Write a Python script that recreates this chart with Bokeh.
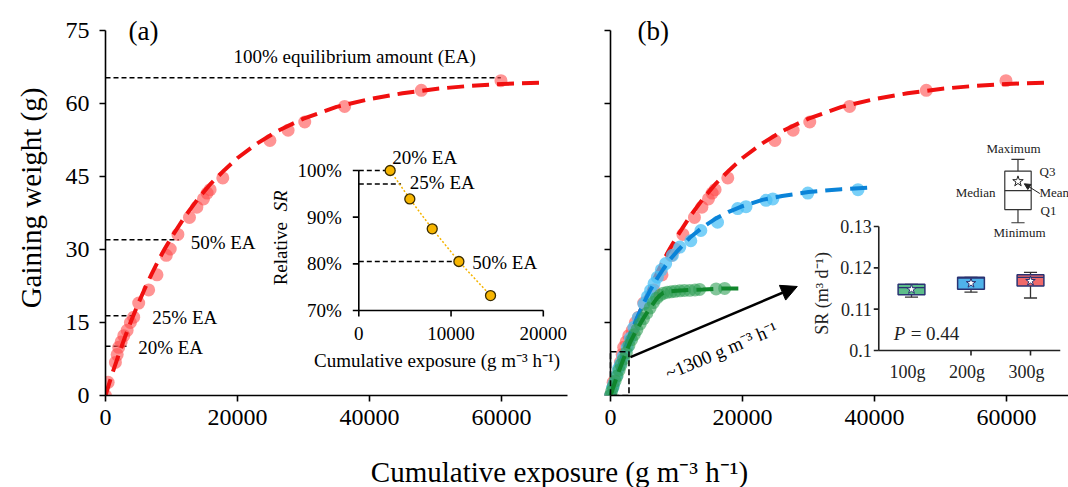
import math
from bokeh.plotting import figure
from bokeh.layouts import row, column
from bokeh.models import Range1d, Arrow, NormalHead, FixedTicker
from bokeh.core.properties import value
from bokeh.embed import file_html
from bokeh.resources import INLINE

FONT = "Liberation Serif"

# ======================= DATA =======================
Y_TICKS = [0, 15, 30, 45, 60, 75]
X_TICKS = [0, 20000, 40000, 60000]
X_TICK_LABELS = ["0", "20000", "40000", "60000"]

# 300 g series (red) - observations
red_x = [0, 400, 1500, 1770, 2000, 2370, 2770, 3280, 3770, 4270, 5030, 6540, 7800, 9210,
         9810, 10970, 12720, 13840, 14840, 15400, 15850, 17770, 24910, 27670, 30190,
         36230, 47850, 59920]
red_y = [0.0, 2.7, 6.8, 8.4, 9.9, 11.0, 12.3, 13.4, 15.0, 16.1, 19.0, 21.7, 24.8, 28.8,
         30.1, 33.1, 36.6, 38.7, 40.4, 41.6, 42.3, 44.7, 52.4, 54.5, 56.2, 59.4, 62.7, 64.7]
# 300 g fitted curve
red_fit_x = [0, 1000, 2000, 3000, 4000, 5000, 6000, 7000, 8000, 9000, 10000, 12000, 14000,
             16000, 18000, 20000, 23000, 26000, 30000, 35000, 40000, 45000, 50000, 55000,
             60000, 66000]
red_fit_y = [0.0, 4.4, 8.4, 12.2, 15.7, 19.0, 22.1, 25.0, 27.7, 30.2, 32.5, 36.7, 40.4,
             43.6, 46.3, 48.8, 51.8, 54.3, 56.9, 59.3, 60.9, 62.1, 63.0, 63.6, 64.0, 64.3]

# 200 g series (blue)
blue_x = [0, 300, 500, 900, 1200, 1520, 1900, 2540, 3000, 3550, 4200, 5070, 5600, 6080,
          6600, 7100, 7700, 8360, 9380, 10500, 12170, 13690, 16220, 19270, 20530, 23570,
          24600, 29900, 37500]
blue_y = [0.0, 1.5, 2.4, 4.0, 5.5, 6.5, 8.0, 9.9, 11.8, 14.0, 16.0, 18.8, 20.3, 21.6,
          23.0, 24.3, 25.8, 27.1, 28.8, 30.5, 31.8, 33.9, 35.6, 38.4, 38.8, 40.1, 40.4,
          41.6, 42.3]
blue_fit_x = [0, 1000, 2000, 3000, 4000, 5000, 6000, 7000, 8000, 9000, 10000, 12000, 14000,
              16000, 18000, 20000, 23000, 26000, 30000, 35000, 40000]
blue_fit_y = [0.0, 4.7, 8.9, 12.6, 15.9, 18.9, 21.6, 23.9, 26.0, 27.9, 29.5, 32.4, 34.6,
              36.4, 37.8, 38.9, 40.2, 41.0, 41.8, 42.4, 42.8]

# 100 g series (green)
green_x = [0, 150, 400, 700, 1000, 1300, 1600, 2000, 2400, 2800, 3200, 3600, 4000, 4500,
           5000, 5500, 6000, 6500, 7000, 7500, 8000, 8600, 9200, 9800, 10500, 11200, 12000,
           12800, 13500, 16000, 17300]
green_y = [0.0, 0.8, 1.8, 3.0, 4.0, 5.2, 6.3, 7.5, 8.8, 10.3, 11.5, 12.5, 13.5, 14.7,
           15.8, 16.9, 18.0, 19.1, 20.0, 20.6, 21.0, 21.2, 21.3, 21.4, 21.5, 21.6, 21.6,
           21.7, 21.8, 21.9, 22.0]
green_fit_x = [0, 1000, 2000, 3000, 4000, 5000, 6000, 7000, 7500, 8000, 9000, 10000, 12000,
               14000, 17000, 20000]
green_fit_y = [0.0, 4.0, 7.6, 11.0, 13.6, 15.9, 18.0, 19.9, 20.6, 21.1, 21.4, 21.5, 21.7,
               21.8, 22.0, 22.0]

# equilibrium-amount reference levels (panel a)
ea_y = [10.1, 16.4, 32.0, 65.3]
ea_x_end = [3640, 4640, 11100, 59900]
ea_labels = ["20% EA", "25% EA", "50% EA", "100% equilibrium amount (EA)"]
ea_label_x = [4950, 7100, 12900, 19400]
ea_label_y = [9.9, 16.0, 31.4, 69.6]

# inset (a): relative SR vs cumulative exposure
rsr_x = [3400, 5530, 7960, 10850, 14280]
rsr_y = [100.0, 93.9, 87.5, 80.5, 73.2]
rsr_ea_y = [100.0, 97.1, 80.5]
rsr_ea_x_end = [3400, 4580, 10850]
rsr_ea_labels = ["20% EA", "25% EA", "50% EA"]
rsr_ea_label_x = [3620, 5530, 12300]
rsr_ea_label_y = [102.8, 97.5, 80.3]
rsr_y_ticks = [70, 80, 90, 100]
rsr_y_tick_labels = ["70%", "80%", "90%", "100%"]
rsr_x_ticks = [0, 10000, 20000]
rsr_x_tick_labels = ["0", "10000", "20000"]

# inset (b): SR box plots
box_groups = ["100g", "200g", "300g"]
box_pos = [1, 2, 3]
box_min = [0.1129, 0.1141, 0.1127]
box_q1 = [0.1135, 0.1148, 0.1156]
box_med = [0.1152, 0.1175, 0.1177]
box_q3 = [0.1160, 0.1177, 0.1183]
box_max = [0.1160, 0.1177, 0.1189]
box_mean = [0.1148, 0.1163, 0.1168]
box_colors = ["#5dbd8a", "#4fb3ea", "#f06a6a"]
box_y_ticks = [0.10, 0.11, 0.12, 0.13]
box_y_tick_labels = ["0.1", "0.11", "0.12", "0.13"]
box_x_ticks = [2, 3]

# box-plot key (panel b coordinates)
key_x = 61740
key_stats = {"min": 35.5, "q1": 38.2, "median": 42.1, "q3": 46.1, "max": 48.5, "mean": 44.0}
key_labels = ["Maximum", "Minimum", "Median", "Q3", "Q1", "Mean"]
key_label_x = [61060, 61970, 58330, 65000, 65150, 65000]
key_label_y = [50.85, 33.55, 41.7, 46.0, 38.0, 41.7]
key_arrow = (65050, 41.5, 62700, 43.5)

# zoom box, arrow and its annotation (panel b)
zoom_box = (0, 2800, 0, 9.0)
big_arrow = (3030, 7.9, 28300, 22.4)
big_arrow_text = "~1300 g m\u207b\u00b3 h\u207b\u00b9"
big_arrow_text_pos = (16800, 9.2)

# ======================= LAYOUT =======================
W_A, W_B, H_MAIN, H_TITLE = 590, 478, 445, 42
A_LEFT, A_RIGHT = 105, 567        # window px of panel (a) frame
B_AXIS, B_RIGHT = 610, 1068       # window px of panel (b) y axis / frame right
B_FRAME_LEFT = 600                # panel (b) frame starts a little left of its axis
F_TOP, F_BOT = 0, 395             # frame top / bottom (window px)
PX_PER_X = (A_RIGHT - A_LEFT) / 70000.0
PX_PER_Y = 365.0 / 75.0
Y_END = (F_BOT - F_TOP) / PX_PER_Y


def xr(v0, p0, k, lo, hi):
    return Range1d(v0 + (lo - p0) / k, v0 + (hi - p0) / k)


def yr(v0, p0, k, top, bot):
    return Range1d(v0 - (bot - p0) / k, v0 + (p0 - top) / k)


def style_axis(ax):
    ax.axis_line_width = 1.6
    ax.axis_line_color = "black"
    ax.major_tick_line_width = 1.6
    ax.major_tick_line_color = "black"
    ax.major_tick_out = 6
    ax.major_tick_in = 0
    ax.minor_tick_line_color = None
    ax.major_label_text_font = FONT
    ax.major_label_text_font_size = "24px"
    ax.major_label_text_color = "black"


def base_fig(width, x_range, left, right, y_axis=True):
    p = figure(width=width, height=H_MAIN, x_range=x_range, y_range=Range1d(0, Y_END),
               output_backend="svg", toolbar_location=None,
               min_border_left=left, min_border_right=right,
               min_border_top=0, min_border_bottom=H_MAIN - F_BOT,
               y_axis_location="left" if y_axis else None)
    p.outline_line_color = None
    p.grid.grid_line_color = None
    p.background_fill_color = "white"
    p.border_fill_color = "white"
    style_axis(p.xaxis[0])
    p.xaxis.ticker = FixedTicker(ticks=X_TICKS)
    p.xaxis.major_label_overrides = dict(zip(X_TICKS, X_TICK_LABELS))
    p.xaxis.major_label_standoff = 8
    if y_axis:
        style_axis(p.yaxis[0])
        p.yaxis.ticker = FixedTicker(ticks=Y_TICKS)
        p.yaxis.bounds = (0, 75)
    return p


def txt(p, x, y, s, size="19px", align="left", baseline="middle", style="normal",
        angle=0.0, color="black", **kw):
    p.text(x=x, y=y, text=s, text_font=value(FONT), text_font_size=size,
           text_align=align, text_baseline=baseline, text_font_style=style,
           angle=angle, text_color=color, **kw)


def series(p, xs, ys, fx, fy, pt_color, pt_alpha, line_color):
    p.scatter(xs, ys, size=13, fill_color=pt_color, fill_alpha=pt_alpha, line_color=None)
    p.line(fx, fy, line_color=line_color, line_width=4, line_dash="17 8")


# ---------------- panel (a) ----------------
pa = base_fig(W_A, Range1d(0, 70000), A_LEFT, W_A - A_RIGHT)
pa.yaxis.axis_label = "Gaining weight (g)"
pa.yaxis.axis_label_text_font = FONT
pa.yaxis.axis_label_text_font_size = "29px"
pa.yaxis.axis_label_text_font_style = "normal"
pa.yaxis.axis_label_text_color = "black"
pa.yaxis.axis_label_standoff = 16
pa.yaxis.major_label_standoff = 10

pa.segment(x0=[0] * len(ea_y), y0=ea_y, x1=ea_x_end, y1=ea_y,
           line_color="black", line_width=1.5, line_dash="5 3")
series(pa, red_x, red_y, red_fit_x, red_fit_y, "#ff4d4d", 0.6, "#f01010")
txt(pa, ea_label_x, ea_label_y, ea_labels)
txt(pa, [3480], [75.0], ["(a)"], size="27px")

# inset (a)
ikx = 184.5 / 20000
iky = 140 / 30.0
pa.extra_x_ranges = {"ix": xr(0, 358.3, ikx, A_LEFT, A_RIGHT)}
pa.extra_y_ranges = {"iy": yr(70, 310, iky, F_TOP, F_BOT)}
IR = dict(x_range_name="ix", y_range_name="iy")
pa.segment(x0=[0, 0], y0=[rsr_y_ticks[0]] * 2, x1=[0, rsr_x_ticks[-1]],
           y1=[rsr_y_ticks[-1], rsr_y_ticks[0]], line_color="black", line_width=1.6, **IR)
pa.segment(x0=[0] * 4, y0=rsr_y_ticks, x1=[-6 / ikx] * 4, y1=rsr_y_ticks,
           line_color="black", line_width=1.6, **IR)
pa.segment(x0=rsr_x_ticks, y0=[70] * 3, x1=rsr_x_ticks, y1=[70 - 6 / iky] * 3,
           line_color="black", line_width=1.6, **IR)
txt(pa, [0] * 4, rsr_y_ticks, rsr_y_tick_labels, align="right", x_offset=-17, **IR)
txt(pa, rsr_x_ticks, [70] * 3, rsr_x_tick_labels, align="center", y_offset=23, **IR)
txt(pa, [8480], [70], ["Cumulative exposure (g m\u207b\u00b3 h\u207b\u00b9)"],
    align="center", y_offset=50, **IR)
txt(pa, [0], [75.4], ["Relative"], angle=math.pi / 2, x_offset=-78, **IR)
txt(pa, [0], [91.2], ["SR"], angle=math.pi / 2, x_offset=-78, style="italic", **IR)
pa.segment(x0=[0] * 3, y0=rsr_ea_y, x1=rsr_ea_x_end, y1=rsr_ea_y,
           line_color="black", line_width=1.5, line_dash="5 3", **IR)
pa.line(rsr_x, rsr_y, line_color="#f5b400", line_width=1.5, line_dash="2 2", **IR)
pa.scatter(rsr_x, rsr_y, size=10, fill_color="#f7b500", line_color="#3a2c00",
           line_width=1.3, **IR)
txt(pa, rsr_ea_label_x, rsr_ea_label_y, rsr_ea_labels, **IR)

# ---------------- panel (b) ----------------
pb = base_fig(W_B, Range1d(-(B_AXIS - B_FRAME_LEFT) / PX_PER_X, (B_RIGHT - B_AXIS) / PX_PER_X),
              B_FRAME_LEFT - W_A, 0, y_axis=False)
pb.xaxis.bounds = (0, (B_RIGHT - B_AXIS) / PX_PER_X)
# y axis of panel (b): line and outward ticks only, no labels
pb.segment(x0=[0], y0=[Y_TICKS[0]], x1=[0], y1=[Y_TICKS[-1]], line_color="black",
           line_width=1.6)
pb.segment(x0=[0] * len(Y_TICKS), y0=Y_TICKS, x1=[-6 / PX_PER_X] * len(Y_TICKS), y1=Y_TICKS,
           line_color="black", line_width=1.6)

series(pb, red_x, red_y, red_fit_x, red_fit_y, "#ff4d4d", 0.6, "#f01010")
series(pb, blue_x, blue_y, blue_fit_x, blue_fit_y, "#4cc0f5", 0.75, "#0a83d8")
series(pb, green_x, green_y, green_fit_x, green_fit_y, "#2f9e55", 0.6, "#10862c")

pb.quad(left=[zoom_box[0]], right=[zoom_box[1]], bottom=[zoom_box[2]], top=[zoom_box[3]],
        fill_color=None, line_color="black", line_width=1.6, line_dash="6 3")
pb.add_layout(Arrow(end=NormalHead(size=16, fill_color="black", line_color="black"),
                    x_start=big_arrow[0], y_start=big_arrow[1],
                    x_end=big_arrow[2], y_end=big_arrow[3],
                    line_width=2.5, line_color="black"))
txt(pb, [big_arrow_text_pos[0]], [big_arrow_text_pos[1]], [big_arrow_text],
    align="center", angle=math.radians(23))
txt(pb, [4090], [75.0], ["(b)"], size="27px")

# box key
kw_ = 2000
kc = 1000
pb.segment(x0=[key_x, key_x], y0=[key_stats["q3"], key_stats["q1"]],
           x1=[key_x, key_x], y1=[key_stats["max"], key_stats["min"]],
           line_color="#333333", line_width=1.2)
pb.segment(x0=[key_x - kc] * 2, y0=[key_stats["max"], key_stats["min"]],
           x1=[key_x + kc] * 2, y1=[key_stats["max"], key_stats["min"]],
           line_color="#333333", line_width=1.2)
pb.quad(left=[key_x - kw_], right=[key_x + kw_], bottom=[key_stats["q1"]],
        top=[key_stats["q3"]], fill_color="white", line_color="#333333", line_width=1.2)
pb.segment(x0=[key_x - kw_], y0=[key_stats["median"]], x1=[key_x + kw_],
           y1=[key_stats["median"]], line_color="#333333", line_width=1.2)
pb.scatter([key_x], [key_stats["mean"]], marker="star", size=11, fill_color="white",
           line_color="#222222", line_width=1)
pb.add_layout(Arrow(end=NormalHead(size=6, fill_color="#222222", line_color="#222222"),
                    x_start=key_arrow[0], y_start=key_arrow[1],
                    x_end=key_arrow[2], y_end=key_arrow[3],
                    line_width=1, line_color="#222222"))
txt(pb, key_label_x[:2], key_label_y[:2], key_labels[:2], size="13px", align="center",
    color="#222222")
txt(pb, key_label_x[2:3], key_label_y[2:3], key_labels[2:3], size="13px", align="right",
    color="#222222")
txt(pb, key_label_x[3:], key_label_y[3:], key_labels[3:], size="13px", align="left",
    color="#222222")

# inset (b): box plot
bkx = 59.5
bky = 124 / 0.03
pb.extra_x_ranges = {"bx": xr(1, 911, bkx, B_FRAME_LEFT, B_RIGHT)}
pb.extra_y_ranges = {"by": yr(0.10, 350, bky, F_TOP, F_BOT)}
BR = dict(x_range_name="bx", y_range_name="by")
ax_x0, ax_x1 = 0.45, 3.5
pb.segment(x0=[ax_x0, ax_x0], y0=[box_y_ticks[0]] * 2, x1=[ax_x0, ax_x1],
           y1=[box_y_ticks[-1], box_y_ticks[0]], line_color="#222222", line_width=1.6, **BR)
pb.segment(x0=[ax_x0] * 4, y0=box_y_ticks, x1=[ax_x0 - 5 / bkx] * 4, y1=box_y_ticks,
           line_color="#222222", line_width=1.6, **BR)
pb.segment(x0=box_x_ticks, y0=[0.10] * 2, x1=box_x_ticks, y1=[0.10 - 5 / bky] * 2,
           line_color="#222222", line_width=1.6, **BR)
txt(pb, [ax_x0] * 4, box_y_ticks, box_y_tick_labels, size="18px", align="right",
    x_offset=-7, color="#222222", **BR)
txt(pb, box_pos, [0.10] * 3, box_groups, size="18px", align="center", x_offset=-4,
    y_offset=21, color="#222222", **BR)
txt(pb, [ax_x0], [0.1138], ["SR (m\u00b3 d\u207b\u00b9)"], size="18px", align="center",
    angle=math.pi / 2, x_offset=-57, color="#222222", **BR)
txt(pb, [0.70], [0.1040], ["P"], size="19px", style="italic", color="#222222", **BR)
txt(pb, [0.70], [0.1040], ["= 0.44"], size="19px", x_offset=17, color="#222222", **BR)

bw = 0.225
cw = 0.11
pb.segment(x0=box_pos, y0=box_q3, x1=box_pos, y1=box_max, line_color="#333333",
           line_width=1.3, **BR)
pb.segment(x0=box_pos, y0=box_q1, x1=box_pos, y1=box_min, line_color="#333333",
           line_width=1.3, **BR)
pb.segment(x0=[x - cw for x in box_pos], y0=box_max, x1=[x + cw for x in box_pos],
           y1=box_max, line_color="#333333", line_width=1.3, **BR)
pb.segment(x0=[x - cw for x in box_pos], y0=box_min, x1=[x + cw for x in box_pos],
           y1=box_min, line_color="#333333", line_width=1.3, **BR)
pb.quad(left=[x - bw for x in box_pos], right=[x + bw for x in box_pos], bottom=box_q1,
        top=box_q3, fill_color=box_colors, line_color="#2a3272", line_width=1.5, **BR)
pb.segment(x0=[x - bw for x in box_pos], y0=box_med, x1=[x + bw for x in box_pos],
           y1=box_med, line_color="#2a3272", line_width=1.3, **BR)
pb.scatter(box_pos, box_mean, marker="star", size=10, fill_color="white",
           line_color="#2a3272", line_width=1, **BR)

# ---------------- shared x title ----------------
pt = figure(width=W_A + W_B, height=H_TITLE, x_range=Range1d(0, W_A + W_B),
            y_range=Range1d(0, H_TITLE), output_backend="svg", toolbar_location=None,
            min_border=0, x_axis_location=None, y_axis_location=None)
pt.outline_line_color = None
pt.grid.grid_line_color = None
pt.background_fill_color = "white"
pt.border_fill_color = "white"
txt(pt, [559], [16], ["Cumulative exposure (g m\u207b\u00b3 h\u207b\u00b9)"], size="29px",
    align="center")

layout = column(row(pa, pb), pt)
open("out.html", "w").write(file_html(layout, INLINE))
